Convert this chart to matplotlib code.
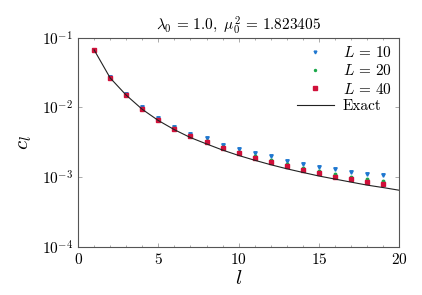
import numpy as np
import matplotlib
matplotlib.use('Agg')
import matplotlib.pyplot as plt

plt.rcParams['mathtext.fontset'] = 'cm'
plt.rcParams['font.family'] = 'serif'
plt.rcParams['font.serif'] = ['cmr10']
plt.rcParams['axes.formatter.use_mathtext'] = True

l = np.arange(1, 20)
c_L40 = [0.067, 0.0267, 0.0152, 0.0095, 0.0066, 0.0049, 0.00384, 0.00316, 0.00259,
         0.00221, 0.0019, 0.00163, 0.00144, 0.00125, 0.00114, 0.00102, 0.00093,
         0.00085, 0.00079]
c_L20 = [0.067, 0.0268, 0.0153, 0.0096, 0.0067, 0.0050, 0.00395, 0.00327, 0.00270,
         0.00232, 0.00201, 0.00174, 0.00154, 0.00135, 0.00123, 0.00111, 0.00102,
         0.00093, 0.00087]
c_L10 = [0.067, 0.0272, 0.0157, 0.0100, 0.0070, 0.0053, 0.00423, 0.00360, 0.00290,
         0.00250, 0.00220, 0.00200, 0.00173, 0.00155, 0.00141, 0.00131, 0.00120,
         0.00112, 0.00107]

l_exact = np.arange(1, 21)
c_exact = [0.067, 0.0265, 0.0150, 0.0094, 0.0065, 0.0048, 0.0037, 0.00300, 0.00245,
           0.00205, 0.00175, 0.00151, 0.00132, 0.00117, 0.00104, 0.00094, 0.00085,
           0.00077, 0.00071, 0.00065]

fig, ax = plt.subplots(figsize=(4.22, 2.95), dpi=100)
fig.subplots_adjust(left=0.185, right=0.946, top=0.872, bottom=0.163)

ax.plot(l, c_L10, 'v', color='#1f77d0', ms=2.5, ls='none', label=r'$L\,=\,10$')
ax.plot(l, c_L20, 'o', color='#1aa84a', ms=1.8, ls='none', label=r'$L\,=\,20$')
ax.plot(l, c_L40, 's', color='#d0103a', ms=3, ls='none', label=r'$L\,=\,40$')
ax.plot(l_exact, c_exact, '-', color='#222222', lw=0.8, label='Exact')

ax.set_yscale('log')
ax.set_xlim(0, 20)
ax.set_ylim(1e-4, 1e-1)
ax.set_xticks([0, 5, 10, 15, 20])
ax.set_xticks(np.arange(0, 21, 1), minor=True)
ax.yaxis.set_minor_locator(matplotlib.ticker.NullLocator())
ax.tick_params(which='both', direction='in', top=True, right=True, labelsize=11)
ax.tick_params(which='major', length=3, width=0.5, color='#888888')
ax.tick_params(which='minor', length=1.5, width=0.5, color='#888888')
for s in ax.spines.values():
    s.set_color('#555555')
    s.set_linewidth(0.8)

ax.set_xlabel(r'$l$', fontsize=15, labelpad=2)
ax.set_ylabel(r'$c_l$', fontsize=15, labelpad=6)
ax.set_title(r'$\lambda_0\,=\,1.0,\ \mu_0^2\,=\,1.823405$', fontsize=11, pad=6)

ax.legend(loc='upper right', frameon=False, fontsize=11, handlelength=2.4,
          borderaxespad=0.1, labelspacing=0.2, handletextpad=0.6, markerscale=0.8)

fig.savefig('out.png', dpi=100)
